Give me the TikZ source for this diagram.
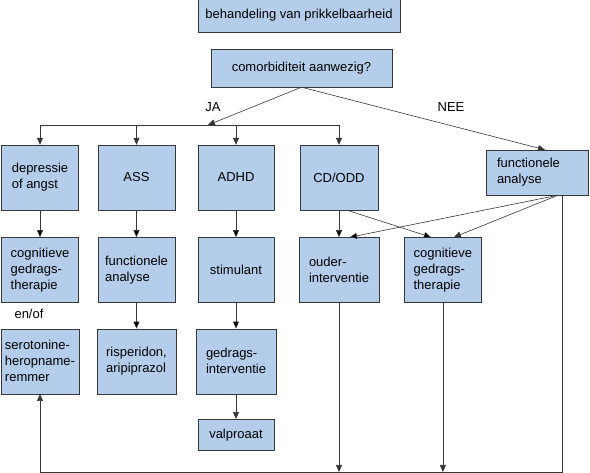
\documentclass[tikz,border=0pt]{standalone}
\usepackage{fontspec}
\setmainfont{Liberation Sans}
\usetikzlibrary{positioning,calc,arrows.meta}
\definecolor{boxblue}{RGB}{180,205,234}
\definecolor{linegray}{RGB}{55,55,55}

\begin{document}
\begin{tikzpicture}[x=1pt,y=-1pt,
    txt/.style={font=\fontsize{13}{16}\selectfont},
    box/.style={txt,draw=linegray,fill=boxblue,align=left,inner sep=2pt,
      minimum width=77pt,minimum height=65pt},
    line/.style={draw=linegray,line width=0.6pt},
    >={Triangle[length=7pt,width=6pt]}]
    \useasboundingbox (0,0) rectangle (590,473);
    % top of the chart
    \node[box,minimum width=202pt,minimum height=33pt] (Beh) at (299,15.5) {behandeling van prikkelbaarheid};
    \node[box,minimum width=181pt,minimum height=38pt] (Com) at (301.5,68) {comorbiditeit aanwezig?};
    % first row
    \node[box] (Dep) at (40,177.5) {depressie\\of angst};
    \node[box] (Ass) at (136.5,177.5) {ASS};
    \node[box,minimum width=76pt] (Adhd) at (236,177.5) {ADHD};
    \node[box,minimum width=78pt] (Cd) at (339,177.5) {CD/ODD};
    \node[box,text width=80pt,inner xsep=11pt,minimum height=45pt] (Fa) at (537,172.5) {functionele\\analyse};
    % second row
    \node[box,below=27pt of Dep] (Cgt) {cognitieve\\gedrags-\\therapie};
    \node[box,below=27pt of Ass] (FaAss) {functionele\\analyse};
    \node[box,minimum width=76pt,below=27pt of Adhd] (Stim) {stimulant};
    \node[box,minimum width=80pt,below=27pt of Cd] (Oud) {ouder-\\interventie};
    \node[box,right=25pt of Oud] (CgtCd) {cognitieve\\gedrags-\\therapie};
    % third row
    \node[box,minimum width=78pt,below=26pt of Cgt] (Ser) {serotonine-\\heropname-\\remmer};
    \node[box,minimum width=79pt,below=26pt of FaAss] (Ris) {risperidon,\\aripiprazol};
    \node[box,minimum width=80pt,below=26pt of Stim] (Ged) {gedrags-\\interventie};
    \node[box,minimum width=76pt,minimum height=31pt,below=25pt of Ged] (Val) {valproaat};
    % labels
    \node[txt] at (213,107) {JA};
    \node[txt] at (451,107) {NEE};
    \node[txt] at (29,314) {en/of};
    \coordinate (Ja) at (208,125);
    \coordinate (LoopR) at (562,472);
    \coordinate (LoopL) at (Ser.south |- LoopR);
    \draw[line,->] (Com.south) -- (Ja);
    \draw[line,->] (Com.south) -- ($(Fa.north)+(8,0)$);
    \draw[line] (Dep.north |- Ja) -- (Cd.north |- Ja);
    \foreach \n in {Dep,Ass,Adhd,Cd}
      \draw[line,->] (\n.north |- Ja) -- (\n.north);
    \draw[line,->]
    (Dep) edge (Cgt)
    (Ass) edge (FaAss)
    (Adhd) edge (Stim)
    (Cd) edge (Oud)
    (FaAss) edge (Ris)
    (Stim) edge (Ged)
    (Ged) -- (Val);
    \draw[line,->]
    ($(Cd.south)+(8,0)$) edge ($(CgtCd.north)+(-12,0)$)
    ($(Fa.south)+(21,0)$) edge ($(Oud.north)+(11,0)$)
    ($(Fa.south)+(21,0)$) -- ($(CgtCd.north)+(11,0)$);
    \foreach \n in {Oud,CgtCd}
      \draw[line,->] (\n.south) -- (\n.south |- LoopR);
    \draw[line,->] (Fa.south -| LoopR) -- (LoopR) -- (LoopL) -- (Ser.south);
  \end{tikzpicture}
\end{document}
